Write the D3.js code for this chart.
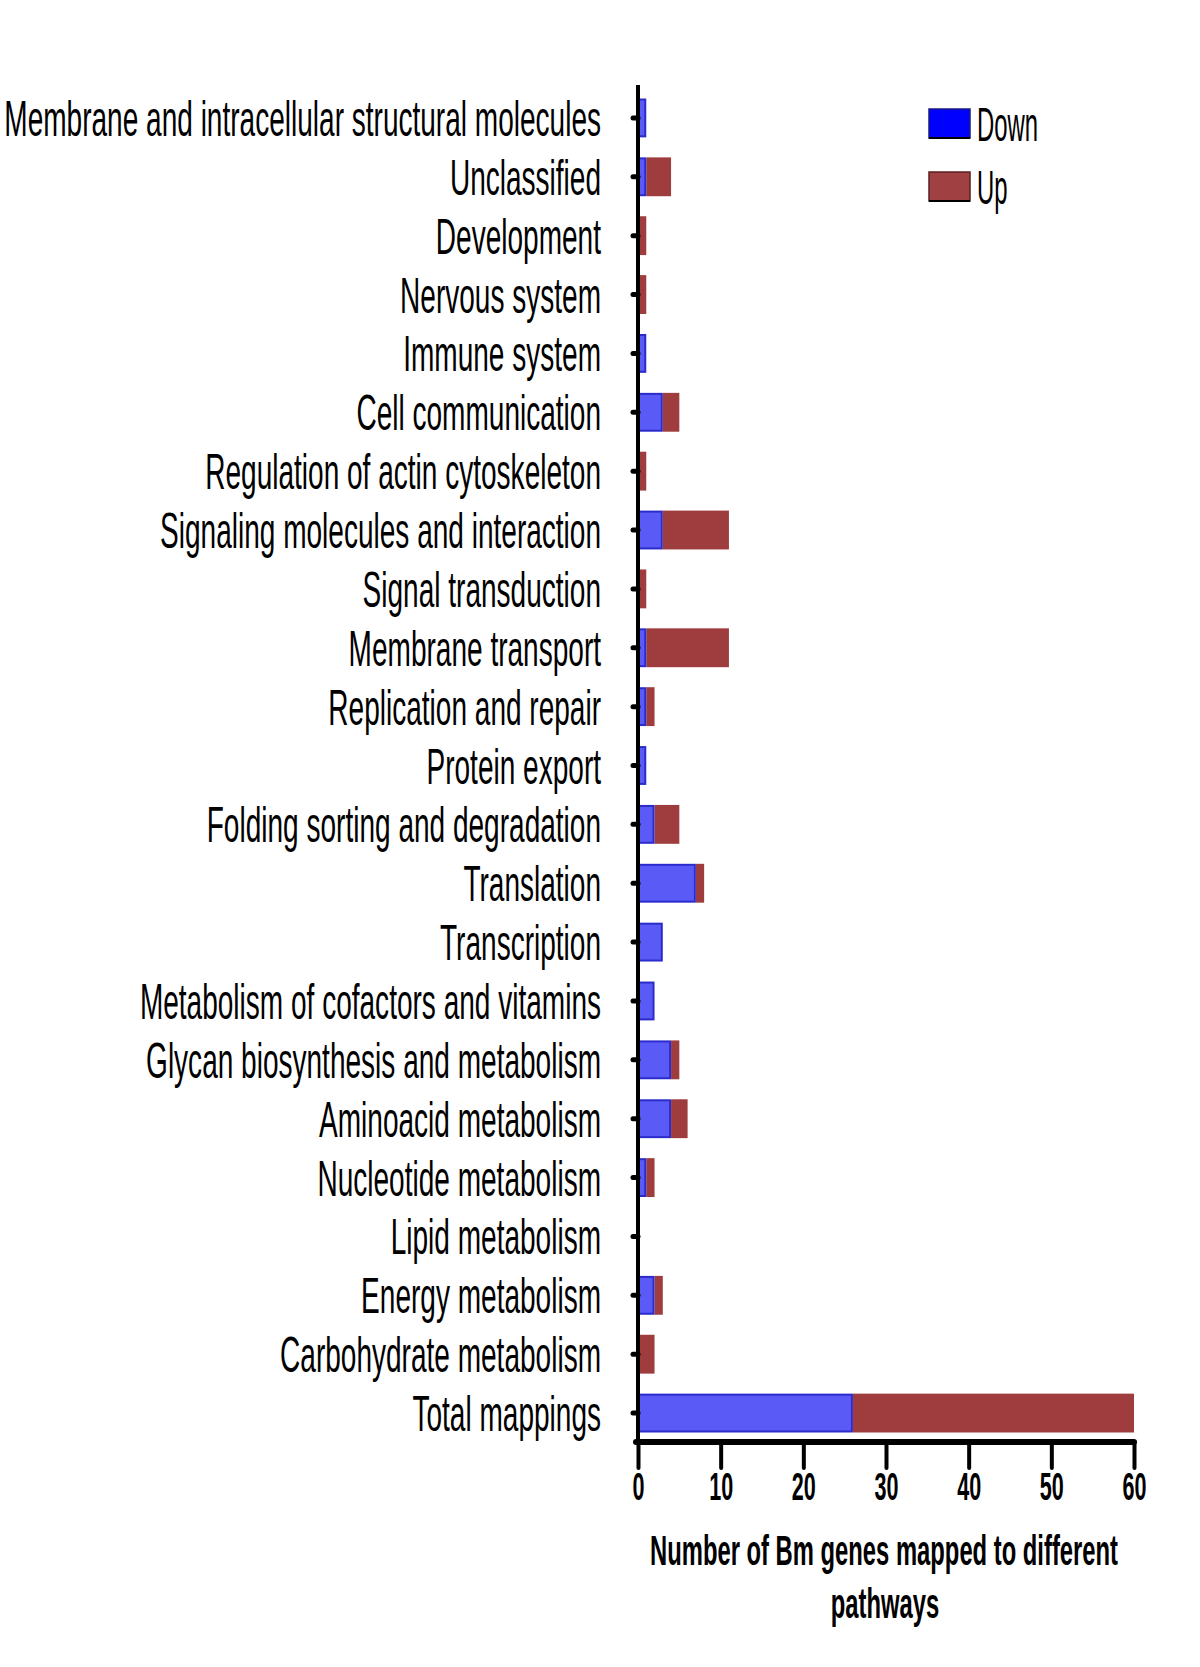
<!DOCTYPE html>
<html><head><meta charset="utf-8">
<script src="https://cdn.jsdelivr.net/npm/d3@7"></script>
<style>body{margin:0;background:#fff} svg{display:block}</style>
</head><body><svg id="c" width="1200" height="1667"></svg>
<script>
const categories = [
  "Membrane and intracellular structural molecules",
  "Unclassified",
  "Development",
  "Nervous system",
  "Immune system",
  "Cell communication",
  "Regulation of actin cytoskeleton",
  "Signaling molecules and interaction",
  "Signal transduction",
  "Membrane transport",
  "Replication and repair",
  "Protein export",
  "Folding sorting and degradation",
  "Translation",
  "Transcription",
  "Metabolism of cofactors and vitamins",
  "Glycan biosynthesis and metabolism",
  "Aminoacid metabolism",
  "Nucleotide metabolism",
  "Lipid metabolism",
  "Energy metabolism",
  "Carbohydrate metabolism",
  "Total mappings"
];
const downValues = [1,1,0,0,1,3,0,3,0,1,1,1,2,7,3,2,4,4,1,0,2,0,26];
const upValues   = [0,3,1,1,0,2,1,8,1,10,1,0,3,1,0,0,1,2,1,0,1,2,34];
const xTicks = [0,10,20,30,40,50,60];
const seriesNames = ["Down","Up"];
const axisTitle = ["Number of Bm genes mapped to different", "pathways"];

const FONT = "'Liberation Sans Narrow','Liberation Sans',Arial,sans-serif";
const svg = d3.select("#c");

const x = d3.scaleLinear().domain([0,60]).range([638,1134]);
const y = d3.scaleBand().domain(categories).range([88.5,1442.5]).paddingInner(0.34).paddingOuter(0.17);

const rows = categories.map((c,i)=>({cat:c, down:downValues[i], up:upValues[i]}));

// bars: up (stacked after down)
svg.append("g").selectAll("rect").data(rows).join("rect")
  .attr("x", d=>x(d.down)).attr("y", d=>y(d.cat))
  .attr("width", d=>x(d.down+d.up)-x(d.down)).attr("height", y.bandwidth())
  .attr("fill", "#9e3c3e");
svg.append("g").selectAll("rect").data(rows.filter(d=>d.down>0)).join("rect")
  .attr("x", x(0)).attr("y", d=>y(d.cat)+1)
  .attr("width", d=>x(d.down)-x(0)-1).attr("height", y.bandwidth()-2)
  .attr("fill", "#5a5af6").attr("stroke", "#2c2ccc").attr("stroke-width", 2);

// y axis
const yAxis = svg.append("g").attr("transform", "translate(638,0)")
  .call(d3.axisLeft(y).tickSize(5).tickSizeOuter(0));
yAxis.select(".domain").remove();
yAxis.selectAll(".tick line").attr("stroke","#000").attr("stroke-width",5).attr("stroke-linecap","round").attr("x2",-5);
const yLabels = yAxis.selectAll(".tick text")
  .attr("font-family", FONT).attr("font-size", 50).attr("fill","#000")
  .attr("dy", "0.36em");
let w0 = yLabels.filter((d,i)=>i===0).node().getComputedTextLength();
const sxL = 597 / w0;
yLabels.attr("x", -37 / sxL).attr("transform", `scale(${sxL},1)`);

svg.append("line").attr("x1",638).attr("x2",638).attr("y1",85).attr("y2",1442)
  .attr("stroke","#000").attr("stroke-width",4);

// x axis
const xAxis = svg.append("g").attr("transform","translate(0,1442)")
  .call(d3.axisBottom(x).tickValues(xTicks).tickSize(26).tickSizeOuter(0).tickPadding(6));
xAxis.select(".domain").remove();
svg.append("line").attr("x1",636).attr("x2",1134).attr("y1",1442).attr("y2",1442)
  .attr("stroke","#000").attr("stroke-width",6).attr("stroke-linecap","round");
xAxis.selectAll(".tick line").attr("stroke","#000").attr("stroke-width",4).attr("stroke-linecap","round");
const xLabels = xAxis.selectAll(".tick text")
  .attr("font-family", FONT).attr("font-weight","bold").attr("font-size",39).attr("fill","#000")
  .attr("y", 44).attr("dy", "0.36em");
const w60 = xLabels.filter(d=>d===60).node().getComputedTextLength();
const sxT = 24 / w60;
xLabels.attr("transform", `scale(${sxT},1)`);

// axis title
const tg = svg.append("g");
const t1 = tg.append("text").attr("font-family",FONT).attr("font-weight","bold").attr("font-size",43)
  .attr("text-anchor","middle").attr("dy","0.36em").text(axisTitle[0]);
const sxA = 468 / t1.node().getComputedTextLength();
t1.attr("transform", `translate(884,1550) scale(${sxA},1)`);
tg.append("text").attr("font-family",FONT).attr("font-weight","bold").attr("font-size",43)
  .attr("text-anchor","middle").attr("dy","0.36em").text(axisTitle[1])
  .attr("transform", `translate(885,1603) scale(${sxA},1)`);

// legend
const legendColors = ["#0000ff","#a04042"];
const lg = svg.append("g");
let sxG = null;
seriesNames.forEach((s,i)=>{
  const yy = 109 + i*63;
  lg.append("rect").attr("x",929).attr("y",yy).attr("width",41).attr("height",29)
    .attr("fill",legendColors[i]).attr("stroke", i===0?"#1a1a80":"#5a2020").attr("stroke-width",1.5);
  lg.append("line").attr("x1",929).attr("x2",970).attr("y1",yy+29).attr("y2",yy+29)
    .attr("stroke","#000").attr("stroke-width",2);
  const t = lg.append("text").attr("font-family",FONT).attr("font-size",48).attr("dy","0.36em").text(s);
  if (sxG === null) sxG = 61 / t.node().getComputedTextLength();
  t.attr("transform",`translate(977,${yy+15}) scale(${sxG},1)`);
});
</script></body></html>
